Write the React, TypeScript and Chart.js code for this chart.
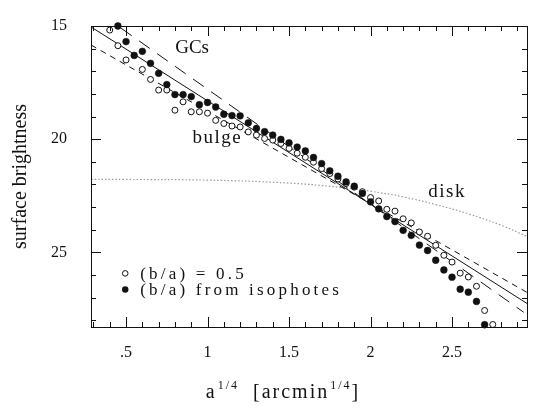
import React, { useEffect, useRef } from 'react';
import { Chart, registerables } from 'chart.js';

Chart.register(...registerables);

// ---- data ----
const filledX = [0.45, 0.50, 0.55, 0.60, 0.65, 0.70, 0.75, 0.80, 0.85, 0.90, 0.95, 1.00, 1.05, 1.10, 1.15, 1.20, 1.25, 1.30, 1.35, 1.40, 1.45, 1.50, 1.55, 1.60, 1.65, 1.70, 1.75, 1.80, 1.85, 1.90, 1.95, 2.00, 2.05, 2.10, 2.15, 2.20, 2.25, 2.30, 2.35, 2.40, 2.45, 2.50, 2.55, 2.60, 2.65, 2.70];
const filledY = [15.0, 15.69, 16.30, 16.12, 16.65, 17.09, 17.59, 18.03, 18.03, 18.12, 18.48, 18.38, 18.58, 18.9, 18.96, 18.97, 19.28, 19.53, 19.67, 19.82, 20.01, 20.16, 20.35, 20.52, 20.81, 21.08, 21.4, 21.64, 21.89, 22.08, 22.4, 22.77, 23.08, 23.42, 23.64, 24.03, 24.25, 24.68, 24.92, 25.35, 25.78, 26.1, 26.63, 26.76, 27.17, 28.2];

const openX = [0.40, 0.45, 0.50, 0.60, 0.65, 0.70, 0.75, 0.80, 0.85, 0.90, 0.95, 1.00, 1.05, 1.10, 1.15, 1.20, 1.25, 1.30, 1.35, 1.40, 1.45, 1.50, 1.55, 1.60, 1.65, 1.70, 1.75, 1.80, 1.85, 1.90, 1.95, 2.00, 2.05, 2.10, 2.15, 2.20, 2.25, 2.30, 2.35, 2.40, 2.45, 2.50, 2.55, 2.60, 2.65, 2.70, 2.75];
const openY = [15.18, 15.87, 16.5, 16.92, 17.36, 17.83, 17.83, 18.72, 18.35, 18.79, 18.79, 18.85, 19.17, 19.31, 19.42, 19.46, 19.68, 19.82, 19.97, 20.04, 20.19, 20.41, 20.62, 20.8, 21.02, 21.3, 21.52, 21.76, 21.96, 22.12, 22.32, 22.58, 22.73, 23.1, 23.18, 23.52, 23.7, 24.1, 24.29, 24.69, 25.13, 25.43, 25.92, 26.09, 26.5, 27.57, 28.19];

const bulgeFitX = [0.285, 2.96];
const bulgeFitY = [15.04, 27.26];

const shortDashX = [0.285, 2.96];
const shortDashY = [15.84, 26.77];

const gcLineX = [0.47, 2.94];
const gcLineY = [15.1, 27.65];

const diskX = [0.285, 0.5, 1.0, 1.5, 1.8, 2.0, 2.2, 2.4, 2.6, 2.8, 2.96];
const diskY = [21.78, 21.78, 21.81, 21.94, 22.12, 22.3, 22.55, 22.89, 23.3, 23.8, 24.3];

const xTickValues = [0.5, 1, 1.5, 2, 2.5];
const xTickLabels = ['.5', '1', '1.5', '2', '2.5'];
const xMinorTicks = [0.3, 0.4, 0.6, 0.7, 0.8, 0.9, 1.1, 1.2, 1.3, 1.4, 1.6, 1.7, 1.8, 1.9, 2.1, 2.2, 2.3, 2.4, 2.6, 2.7, 2.8, 2.9];
const yTickValues = [15, 20, 25];
const yTickLabels = ['15', '20', '25'];
const yMinorTicks = [16, 17, 18, 19, 21, 22, 23, 24, 26, 27, 28];

const xRange = [0.285, 2.96];
const yRange = [15, 28.3];

const yTitle = 'surface brightness';
const legendOpen = '(b/a) = 0.5';
const legendFilled = '(b/a) from isophotes';

const SERIF = '"Liberation Serif", "DejaVu Serif", serif';
const INK = '#111';

const pts = (xs: number[], ys: number[]) => xs.map((x, i) => ({ x, y: ys[i] }));

const decorPlugin = {
  id: 'decor',
  afterDraw(chart: any) {
    const { ctx, chartArea: a, scales } = chart;
    const xs = scales.x;
    const ys = scales.y;
    ctx.save();
    ctx.strokeStyle = INK;
    ctx.lineWidth = 1;
    // frame
    ctx.strokeRect(Math.round(a.left) + 0.5, Math.round(a.top) + 0.5, Math.round(a.right - a.left), Math.round(a.bottom - a.top));
    // ticks
    const xTick = (v: number, len: number) => {
      const p = Math.round(xs.getPixelForValue(v)) + 0.5;
      ctx.beginPath();
      ctx.moveTo(p, a.bottom);
      ctx.lineTo(p, a.bottom - len);
      ctx.moveTo(p, a.top);
      ctx.lineTo(p, a.top + len);
      ctx.stroke();
    };
    const yTick = (v: number, len: number) => {
      const p = Math.round(ys.getPixelForValue(v)) + 0.5;
      ctx.beginPath();
      ctx.moveTo(a.left, p);
      ctx.lineTo(a.left + len, p);
      ctx.moveTo(a.right, p);
      ctx.lineTo(a.right - len, p);
      ctx.stroke();
    };
    xTickValues.forEach((v) => xTick(v, 10));
    xMinorTicks.forEach((v) => xTick(v, 5));
    yTickValues.forEach((v) => yTick(v, 10));
    yMinorTicks.forEach((v) => yTick(v, 5));

    // annotations
    ctx.fillStyle = INK;
    ctx.textBaseline = 'middle';
    ctx.textAlign = 'center';
    ctx.font = `19px ${SERIF}`;
    ctx.fillText('GCs', xs.getPixelForValue(0.905), ys.getPixelForValue(15.97));
    (ctx as any).letterSpacing = '1.5px';
    ctx.fillText('bulge', xs.getPixelForValue(1.06), ys.getPixelForValue(19.96));
    ctx.fillText('disk', xs.getPixelForValue(2.47), ys.getPixelForValue(22.35));

    // legend inside plot
    ctx.textAlign = 'left';
    ctx.font = `17px ${SERIF}`;
    (ctx as any).letterSpacing = '3.2px';
    const lx = xs.getPixelForValue(0.495);
    const ly1 = ys.getPixelForValue(25.93);
    const ly2 = ys.getPixelForValue(26.64);
    ctx.beginPath();
    ctx.arc(lx, ly1, 2.8, 0, Math.PI * 2);
    ctx.fillStyle = '#fff';
    ctx.fill();
    ctx.stroke();
    ctx.beginPath();
    ctx.arc(lx, ly2, 3.2, 0, Math.PI * 2);
    ctx.fillStyle = INK;
    ctx.fill();
    ctx.fillText(legendOpen, lx + 15, ly1 + 1);
    ctx.fillText(legendFilled, lx + 15, ly2 + 1);
    (ctx as any).letterSpacing = '0px';

    // x axis title with superscripts
    const parts: [string, boolean][] = [['a', false], ['1/4', true], ['  [arcmin', false], ['1/4', true], [']', false]];
    const mainFont = `20px ${SERIF}`;
    const supFont = `12px ${SERIF}`;
    (ctx as any).letterSpacing = '2px';
    let total = 0;
    parts.forEach(([t, sup]) => {
      ctx.font = sup ? supFont : mainFont;
      total += ctx.measureText(t).width + (sup ? 1 : 0);
    });
    let cx = 283 - total / 2;
    const base = 398;
    ctx.textBaseline = 'alphabetic';
    ctx.fillStyle = INK;
    parts.forEach(([t, sup]) => {
      ctx.font = sup ? supFont : mainFont;
      ctx.fillText(t, cx + (sup ? 1 : 0), sup ? base - 9 : base);
      cx += ctx.measureText(t).width + (sup ? 1 : 0);
    });
    (ctx as any).letterSpacing = '0px';
    ctx.restore();
  },
};

export default function App() {
  const ref = useRef<HTMLCanvasElement | null>(null);
  useEffect(() => {
    document.body.style.margin = '0';
    const canvas = ref.current;
    if (!canvas) return;
    const chart = new Chart(canvas, {
      type: 'scatter',
      data: {
        datasets: [
          {
            label: legendFilled,
            data: pts(filledX, filledY),
            pointRadius: 3.4,
            pointBackgroundColor: INK,
            pointBorderColor: INK,
            pointBorderWidth: 0.5,
            showLine: false,
            clip: false,
          },
          {
            label: legendOpen,
            data: pts(openX, openY),
            pointRadius: 3,
            pointBackgroundColor: '#fff',
            pointBorderColor: INK,
            pointBorderWidth: 1,
            showLine: false,
            clip: false,
          },
          {
            label: 'bulge fit',
            data: pts(bulgeFitX, bulgeFitY),
            showLine: true,
            pointRadius: 0,
            borderColor: INK,
            borderWidth: 1,
          },
          {
            label: 'short dashed',
            data: pts(shortDashX, shortDashY),
            showLine: true,
            pointRadius: 0,
            borderColor: INK,
            borderWidth: 1,
            borderDash: [6, 5],
          },
          {
            label: 'GCs',
            data: pts(gcLineX, gcLineY),
            showLine: true,
            pointRadius: 0,
            borderColor: INK,
            borderWidth: 1,
            borderDash: [13, 9],
          },
          {
            label: 'disk',
            data: pts(diskX, diskY),
            showLine: true,
            pointRadius: 0,
            borderColor: '#9a9a9a',
            borderWidth: 1.2,
            borderDash: [1.5, 2],
            tension: 0.4,
          },
        ],
      },
      options: {
        animation: false,
        responsive: false,
        maintainAspectRatio: false,
        layout: { padding: { top: 26, right: 18, left: 0, bottom: 0 } },
        plugins: { legend: { display: false }, tooltip: { enabled: false } },
        scales: {
          x: {
            type: 'linear',
            min: xRange[0],
            max: xRange[1],
            afterBuildTicks: (s: any) => {
              s.ticks = xTickValues.map((v) => ({ value: v }));
            },
            afterFit: (s: any) => {
              s.height = 82;
              s.paddingLeft = 0;
              s.paddingRight = 0;
            },
            grid: { display: false, drawTicks: false },
            border: { display: false },
            ticks: {
              padding: 16,
              color: INK,
              font: { family: SERIF, size: 16 },
              maxRotation: 0,
              autoSkip: false,
              callback: (v: any) => {
                const i = xTickValues.indexOf(Number(v));
                return i >= 0 ? xTickLabels[i] : '';
              },
            },
          },
          y: {
            type: 'linear',
            reverse: true,
            min: yRange[0],
            max: yRange[1],
            afterBuildTicks: (s: any) => {
              s.ticks = yTickValues.map((v) => ({ value: v }));
            },
            afterFit: (s: any) => {
              s.width = 91;
              s.paddingTop = 0;
              s.paddingBottom = 0;
            },
            grid: { display: false, drawTicks: false },
            border: { display: false },
            title: {
              display: true,
              text: yTitle,
              color: INK,
              font: { family: SERIF, size: 20 },
              padding: { top: 9, bottom: 0 },
            },
            ticks: {
              padding: 24,
              color: INK,
              font: { family: SERIF, size: 16 },
              autoSkip: false,
              callback: (v: any) => {
                const i = yTickValues.indexOf(Number(v));
                return i >= 0 ? yTickLabels[i] : '';
              },
            },
          },
        },
      },
      plugins: [decorPlugin],
    } as any);
    return () => chart.destroy();
  }, []);
  return (
    <div style={{ width: 545, height: 409, background: '#fff' }}>
      <canvas ref={ref} width={545} height={409} style={{ display: 'block', width: 545, height: 409 }} />
    </div>
  );
}
